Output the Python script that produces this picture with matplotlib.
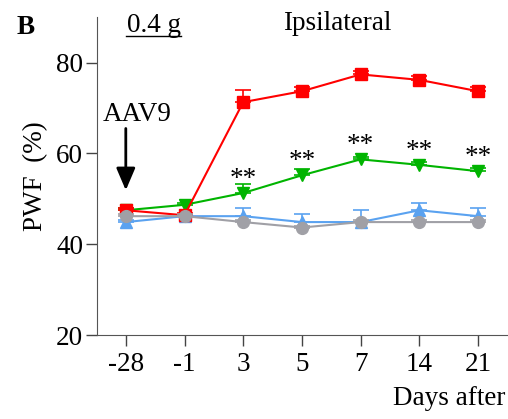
import numpy as np
import matplotlib
matplotlib.use("Agg")
import matplotlib.pyplot as plt

days = ["-28", "-1", "3", "5", "7", "14", "21"]

red = [47.5, 46.4, 71.3, 73.7, 77.4, 76.2, 73.7]
red_err = [0.6, 0.5, 2.7, 1.0, 0.8, 0.8, 1.0]
green = [47.5, 48.7, 51.3, 55.2, 58.7, 57.5, 56.1]
green_err = [0.5, 0.5, 2.0, 1.4, 0.5, 0.6, 0.8]
blue = [44.9, 46.2, 46.2, 44.9, 44.9, 47.5, 46.2]
blue_err = [0.5, 0.5, 1.8, 1.8, 2.6, 1.5, 1.8]
gray = [46.2, 46.2, 44.9, 43.7, 44.9, 44.9, 44.9]
gray_err = [0.4, 0.4, 0.4, 0.4, 0.4, 0.4, 0.4]

stars = [False, False, True, True, True, True, True]

plt.rcParams["font.family"] = ["Liberation Serif", "DejaVu Serif"]
FS = 19.5

fig = plt.figure(figsize=(5.08, 4.19), dpi=100)
ax = fig.add_axes([0.191, 0.2, 0.809, 0.759])
x = np.arange(len(days))

series = [
    (blue, blue_err, "#5aa2f0", "^", 8.5, 1),
    (green, green_err, "#00b400", "v", 8.5, 2),
    (red, red_err, "#ff0000", "s", 8, 3),
    (gray, gray_err, "#a0a0a6", "o", 8.5, 4),
]
for y, e, c, m, ms, z in series:
    ax.errorbar(x, y, yerr=[np.zeros(len(e)), e], color=c, marker=m,
                markersize=ms, lw=1.5, elinewidth=1.2, capsize=5.5,
                capthick=1.2, zorder=z)

for i, s in enumerate(stars):
    if s:
        ax.text(x[i], green[i] + 3.0, "**", ha="center", va="center",
                fontsize=FS)

# AAV9 injection arrow
ax.annotate("", xy=(0, 51.9), xytext=(0, 65.5),
            arrowprops=dict(arrowstyle="-|>,head_length=0.75,head_width=0.32",
                            color="black", lw=2, mutation_scale=18,
                            shrinkA=0, shrinkB=0))
ax.text(0.2, 68.6, "AAV9", ha="center", va="center", fontsize=FS)

ax.set_xlim(-0.49, 6.51)
ax.set_ylim(20, 90)
ax.set_xticks(x)
ax.set_xticklabels(days)
ax.set_yticks([20, 40, 60, 80])
ax.tick_params(direction="out", length=8, width=1, colors="#444444",
               labelcolor="black", labelsize=FS)
ax.tick_params(axis="x", pad=4)
ax.tick_params(axis="y", pad=2)
ax.spines["top"].set_visible(False)
ax.spines["right"].set_visible(False)
for sp in ["left", "bottom"]:
    ax.spines[sp].set_color("#555555")
ax.set_ylabel("PWF  (%)", fontsize=FS, labelpad=6)

fig.text(0.995, 0.02, "Days after", ha="right", va="bottom", fontsize=FS)
fig.text(0.033, 0.935, "B", fontsize=FS, fontweight="bold", va="center")
fig.text(0.25, 0.938, "0.4 g", fontsize=FS, va="center")
fig.add_artist(plt.Line2D([0.249, 0.356], [0.913, 0.913], color="black", lw=1))
fig.text(0.663, 0.945, "Ipsilateral", ha="center", va="center", fontsize=FS)

fig.savefig("out.png", dpi=100)
